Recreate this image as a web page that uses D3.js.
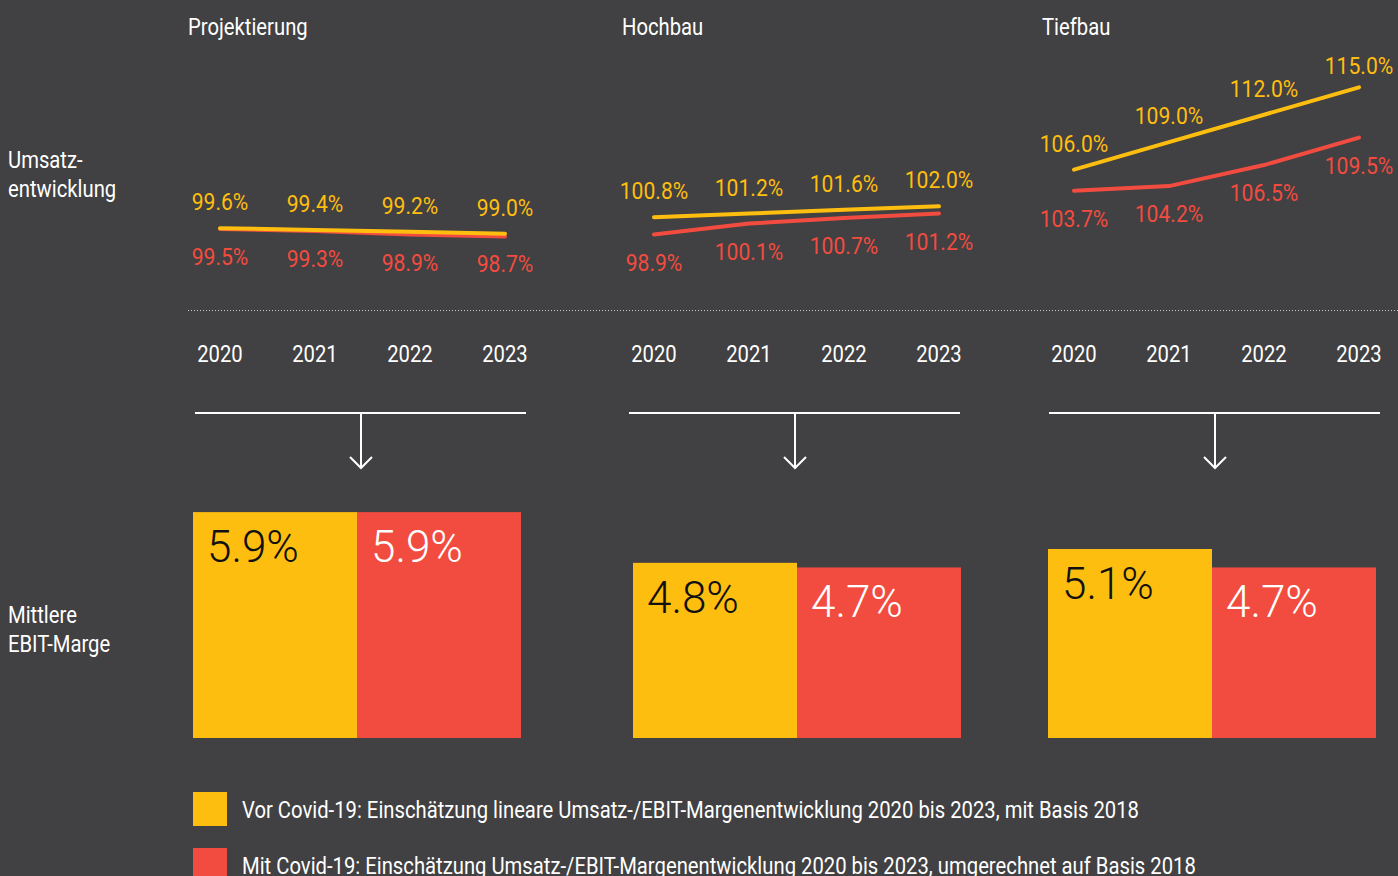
<!DOCTYPE html>
<html>
<head>
<meta charset="utf-8">
<script src="https://cdn.jsdelivr.net/npm/d3@7"></script>
<style>
  html, body { margin: 0; padding: 0; background: #414042; }
  svg { display: block; }
  text { font-family: Roboto, "Liberation Sans", sans-serif; }
  .white { fill: #ffffff; }
  .big { font-family: Roboto, "Open Sans", sans-serif; font-weight: 300; }
</style>
</head>
<body>
<svg id="chart" width="1398" height="876"></svg>
<script>
// Daten
const years = [2020, 2021, 2022, 2023];
const sectors = ["Projektierung", "Hochbau", "Tiefbau"];
const umsatzVor = [
  [99.6, 99.4, 99.2, 99.0],
  [100.8, 101.2, 101.6, 102.0],
  [106.0, 109.0, 112.0, 115.0]
];
const umsatzMit = [
  [99.5, 99.3, 98.9, 98.7],
  [98.9, 100.1, 100.7, 101.2],
  [103.7, 104.2, 106.5, 109.5]
];
const margeVor = [5.9, 4.8, 5.1];
const margeMit = [5.9, 4.7, 4.7];
const rowLabels = [["Umsatz-", "entwicklung"], ["Mittlere", "EBIT-Marge"]];
const legendLabels = [
  "Vor Covid-19: Einschätzung lineare Umsatz-/EBIT-Margenentwicklung 2020 bis 2023, mit Basis 2018",
  "Mit Covid-19: Einschätzung Umsatz-/EBIT-Margenentwicklung 2020 bis 2023, umgerechnet auf Basis 2018"
];

const colors = { vor: "#FEBE10", mit: "#F24C40" };

const svg = d3.select("#chart");
const panelLeft = [188, 622, 1042];
const barShift = [5, 11, 6];

// Skalen
const x = d3.scalePoint().domain(years).range([32, 317]);
const y = d3.scaleLinear().domain([100, 115]).range([224.5, 87.3]);
const xb = d3.scaleBand().domain(["vor", "mit"]).range([0, 328]);
const yb = d3.scaleLinear().domain([1, 6]).range([738, 507.5]);

const fmt = v => v.toFixed(1) + "%";

// Zeilenbeschriftung
rowLabels.forEach(function(lines, i) {
  lines.forEach(function(l, j) {
    svg.append("text")
      .attr("class", "white cond")
      .attr("x", 8)
      .attr("y", (i === 0 ? 168 : 623) + j * 29)
      .style("font-size", "23px")
      .text(l);
  });
});

// gepunktete Linie
svg.append("line")
  .attr("x1", 188).attr("x2", 1398)
  .attr("y1", 310.5).attr("y2", 310.5)
  .attr("stroke", "#c8c8c8")
  .attr("stroke-width", 1)
  .attr("stroke-dasharray", "1,2");

const line = d3.line()
  .x((d, i) => x(years[i]))
  .y(d => y(d));

sectors.forEach(function(name, p) {
  const g = svg.append("g").attr("transform", `translate(${panelLeft[p]},0)`);

  g.append("text")
    .attr("class", "white cond")
    .attr("x", 0).attr("y", 35)
    .style("font-size", "23px")
    .text(name);

  // Linien
  [["mit", umsatzMit[p]], ["vor", umsatzVor[p]]].forEach(function(s) {
    g.append("path")
      .datum(s[1])
      .attr("d", line)
      .attr("fill", "none")
      .attr("stroke", colors[s[0]])
      .attr("stroke-width", 4)
      .attr("stroke-linecap", "round")
      .attr("stroke-linejoin", "round");
  });

  g.selectAll("text.vor")
    .data(umsatzVor[p])
    .enter().append("text")
    .attr("class", "vor cond")
    .attr("x", (d, i) => x(years[i]))
    .attr("y", d => Math.max(y(d) - 18, 74))
    .attr("text-anchor", "middle")
    .attr("fill", colors.vor)
    .style("font-size", "24px")
    .text(fmt);

  g.selectAll("text.mit")
    .data(umsatzMit[p])
    .enter().append("text")
    .attr("class", "mit cond")
    .attr("x", (d, i) => x(years[i]))
    .attr("y", d => y(d) + 36)
    .attr("text-anchor", "middle")
    .attr("fill", colors.mit)
    .style("font-size", "24px")
    .text(fmt);

  // Jahre
  g.selectAll("text.year")
    .data(years)
    .enter().append("text")
    .attr("class", "year white cond")
    .attr("x", d => x(d))
    .attr("y", 362)
    .attr("text-anchor", "middle")
    .style("font-size", "23px")
    .text(d => d);

  // Pfeil
  g.append("line")
    .attr("x1", 7).attr("x2", 338)
    .attr("y1", 413).attr("y2", 413)
    .attr("stroke", "#fff").attr("stroke-width", 2);
  g.append("line")
    .attr("x1", 173).attr("x2", 173)
    .attr("y1", 413).attr("y2", 468)
    .attr("stroke", "#fff").attr("stroke-width", 2);
  g.append("path")
    .attr("d", "M162,457L173,468L184,457")
    .attr("fill", "none")
    .attr("stroke", "#fff").attr("stroke-width", 2);

  // Balken
  const bars = [["vor", margeVor[p]], ["mit", margeMit[p]]];
  const gb = g.append("g").attr("transform", `translate(${barShift[p]},0)`);
  gb.selectAll("rect.bar")
    .data(bars)
    .enter().append("rect")
    .attr("class", "bar")
    .attr("x", d => xb(d[0]))
    .attr("width", xb.bandwidth())
    .attr("y", d => yb(d[1]))
    .attr("height", d => yb(1) - yb(d[1]))
    .attr("fill", d => colors[d[0]]);

  gb.selectAll("text.barlabel")
    .data(bars)
    .enter().append("text")
    .attr("class", "barlabel big")
    .attr("x", d => xb(d[0]) + 14)
    .attr("y", d => yb(d[1]) + 50)
    .attr("fill", d => d[0] === "vor" ? "#111" : "#fff")
    .style("font-size", "44px")
    .text(d => fmt(d[1]));
});

// Legende
const legend = svg.selectAll("g.legend")
  .data(legendLabels)
  .enter().append("g")
  .attr("class", "legend")
  .attr("transform", (d, i) => `translate(193,${792 + i * 56})`);
legend.append("rect")
  .attr("width", 34).attr("height", 34)
  .attr("fill", (d, i) => i === 0 ? colors.vor : colors.mit);
legend.append("text")
  .attr("class", "white cond")
  .attr("x", 49).attr("y", 26)
  .style("font-size", "23px")
  .text(d => d);

// schmale Schrift nachbilden: Breite an erste Legendenzeile (897px) anpassen
const ref = legend.select("text").node();
const squeeze = 897 / ref.getComputedTextLength();
svg.selectAll("text.cond").each(function() {
  const len = this.getComputedTextLength();
  d3.select(this)
    .attr("textLength", len * squeeze)
    .attr("lengthAdjust", "spacingAndGlyphs");
});
</script>
</body>
</html>
